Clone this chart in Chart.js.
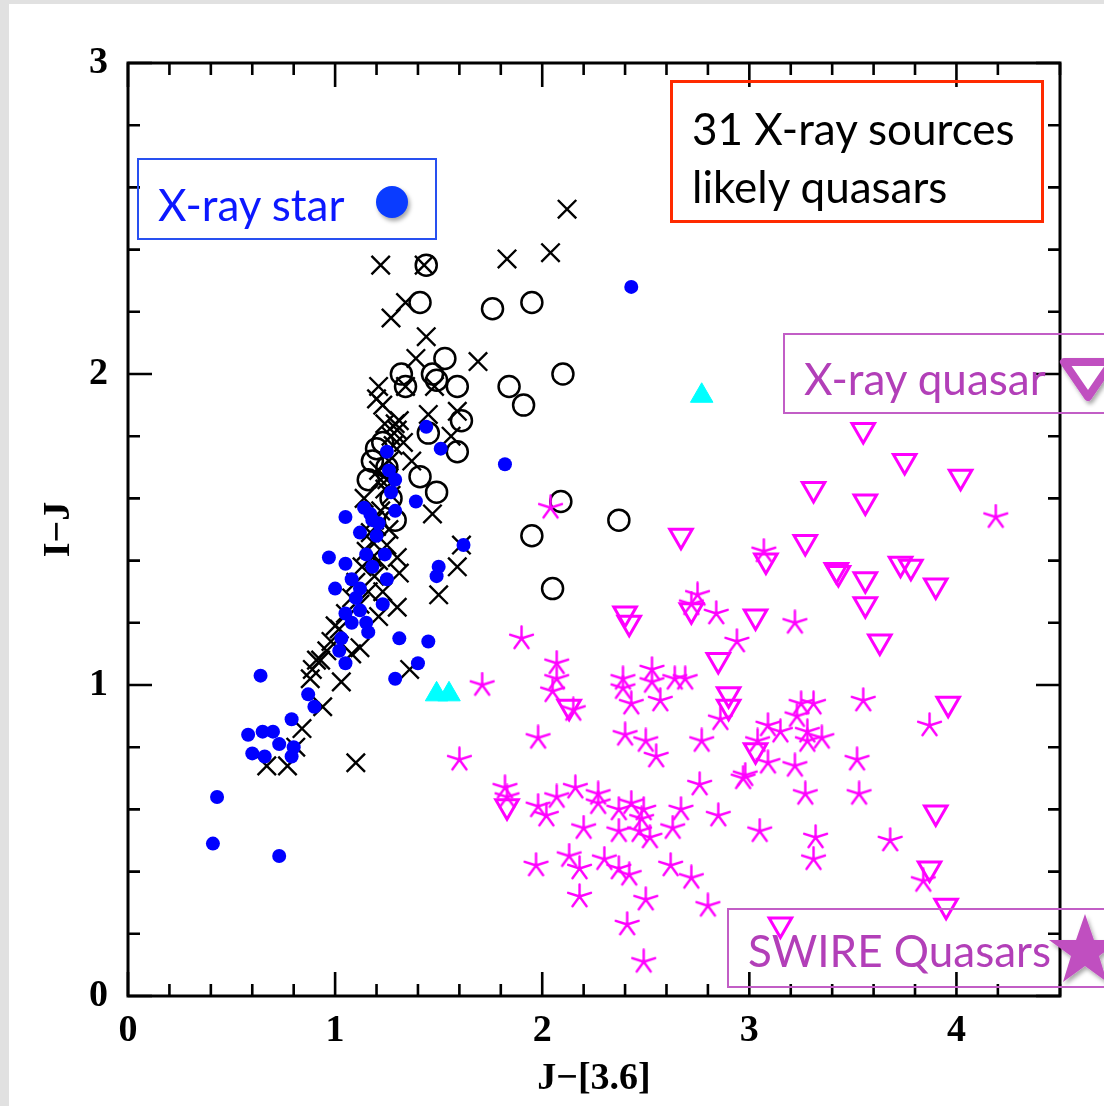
<!DOCTYPE html>
<html>
<head>
<meta charset="utf-8">
<script src="https://cdn.jsdelivr.net/npm/chart.js@4.4.0/dist/chart.umd.min.js"></script>
<style>
  html, body { margin: 0; padding: 0; background: #e1e1e1; }
  #page { position: relative; width: 1104px; height: 1106px; overflow: hidden; }
  #card { position: absolute; left: 9px; top: 4px; right: 0; bottom: 0; background: #fff; }
  #plot { position: absolute; left: 0; top: 0; }
  .box { position: absolute; box-sizing: border-box; }
  .txt { position: absolute; white-space: nowrap; font-family: Lato, 'Open Sans', sans-serif; font-size: 44px; line-height: 44px; }
</style>
</head>
<body>
<div id="page">
  <div id="card"></div>
  <canvas id="plot" width="1104" height="1106"></canvas>

  <div class="box" style="left:670px; top:80px; width:374px; height:143px; border:3px solid #ff2a00;"></div>
  <div class="txt" style="left:692px; top:106px; color:#000;">31 X-ray sources</div>
  <div class="txt" style="left:692px; top:164px; color:#000;">likely quasars</div>

  <div class="box" style="left:137px; top:158px; width:300px; height:82px; border:2px solid #2850f0;"></div>
  <div class="txt" style="left:158px; top:182px; color:#0c18ff;">X-ray star</div>
  <div style="position:absolute; left:376px; top:186px; width:32px; height:32px; border-radius:50%; background:#0a3cff; box-shadow:2px 3px 4px rgba(0,0,0,0.35);"></div>

  <div class="box" style="left:783px; top:333px; width:340px; height:81px; border:2px solid #c25ec6;"></div>
  <div class="txt" style="left:804px; top:356px; color:#b23fb8;">X-ray quasar</div>
  <svg style="position:absolute; left:1050px; top:350px;" width="80" height="60">
    <defs><filter id="sh" x="-30%" y="-30%" width="160%" height="160%"><feDropShadow dx="2" dy="3" stdDeviation="2" flood-opacity="0.35"/></filter></defs>
    <polygon points="14,12 62,12 38,47" fill="#fff" stroke="#c050c0" stroke-width="8" stroke-linejoin="round" filter="url(#sh)"/>
  </svg>

  <div class="box" style="left:727px; top:908px; width:400px; height:80px; border:2px solid #c25ec6;"></div>
  <div class="txt" style="left:748px; top:928px; color:#b23fb8;">SWIRE Quasars</div>
  <svg style="position:absolute; left:1040px; top:906px;" width="90" height="90">
    <defs><filter id="sh2" x="-30%" y="-30%" width="160%" height="160%"><feDropShadow dx="2" dy="3" stdDeviation="2" flood-opacity="0.35"/></filter></defs>
    <polygon points="45,8 54,34 81,34 59,50 67,76 45,60 23,76 31,50 9,34 36,34" fill="#c050c0" filter="url(#sh2)"/>
  </svg>
</div>

<script>
// J-[3.6] vs I-J, one [x, y] pair per source
const swireQuasars = [
  [1.90, 1.15], [2.07, 1.07], [2.07, 1.02], [2.05, 0.98], [2.15, 0.92], [1.71, 1.00], [1.98, 0.83], [1.60, 0.76],
  [2.39, 1.02], [2.39, 0.99], [2.53, 1.05], [2.53, 1.01], [2.43, 0.94], [2.57, 0.95], [2.64, 1.02], [2.69, 1.02],
  [2.75, 1.29], [2.84, 1.23], [2.94, 1.14], [2.86, 0.89], [2.40, 0.84], [2.50, 0.82], [2.55, 0.77], [2.77, 0.82],
  [2.76, 0.68], [2.97, 0.70], [1.82, 0.67], [2.16, 0.67], [2.07, 0.64], [1.98, 0.61], [2.02, 0.58], [2.27, 0.65],
  [2.27, 0.62], [2.20, 0.54], [2.37, 0.60], [2.43, 0.62], [2.49, 0.60], [2.48, 0.57], [2.37, 0.53], [2.47, 0.53],
  [2.52, 0.51], [2.67, 0.60], [2.63, 0.54], [2.85, 0.58], [2.13, 0.45], [2.18, 0.41], [2.30, 0.44], [2.37, 0.41],
  [2.42, 0.39], [1.97, 0.42], [2.18, 0.32], [2.62, 0.42], [2.72, 0.38], [2.50, 0.31], [2.41, 0.23], [2.80, 0.29],
  [2.49, 0.11], [3.07, 1.43], [4.19, 1.54], [3.22, 1.20], [3.55, 0.95], [3.25, 0.94], [3.31, 0.94], [3.23, 0.90],
  [3.09, 0.87], [3.15, 0.85], [3.28, 0.85], [3.28, 0.82], [3.35, 0.83], [3.04, 0.82], [3.87, 0.87], [3.09, 0.75],
  [3.22, 0.74], [2.98, 0.71], [3.52, 0.76], [3.27, 0.65], [3.53, 0.65], [3.05, 0.53], [3.32, 0.51], [3.31, 0.44],
  [3.68, 0.50], [3.84, 0.37], [2.04, 1.57], [1.83, 0.64], [2.72, 1.26]
];

const xrayQuasars = [
  [3.55, 1.82], [3.75, 1.72], [4.02, 1.67], [3.31, 1.63], [3.56, 1.59], [3.27, 1.46], [3.08, 1.40], [3.42, 1.37],
  [3.43, 1.36], [3.56, 1.34], [3.73, 1.39], [3.78, 1.38], [3.90, 1.32], [3.56, 1.26], [3.63, 1.14], [3.03, 1.22],
  [2.67, 1.48], [2.40, 1.23], [2.42, 1.20], [2.72, 1.24], [2.85, 1.08], [2.90, 0.97], [2.90, 0.93], [2.13, 0.93],
  [3.03, 0.79], [3.96, 0.94], [3.90, 0.59], [3.87, 0.41], [3.95, 0.29], [3.15, 0.23], [1.83, 0.61]
];

const cyanSources = [[2.77, 1.93], [1.49, 0.97], [1.55, 0.97]];

const xrayStars = [
  [2.43, 2.28], [1.44, 1.83], [1.51, 1.76], [1.82, 1.71], [1.25, 1.75], [1.26, 1.69], [1.29, 1.66], [1.39, 1.59],
  [1.29, 1.56], [1.62, 1.45], [1.50, 1.38], [1.49, 1.35], [1.27, 1.62], [1.14, 1.57], [1.05, 1.54], [1.18, 1.53],
  [1.12, 1.49], [1.21, 1.52], [1.24, 1.42], [1.15, 1.42], [0.97, 1.41], [1.05, 1.39], [1.18, 1.38], [1.08, 1.34],
  [1.00, 1.31], [1.12, 1.31], [1.25, 1.34], [1.23, 1.26], [1.05, 1.23], [1.12, 1.24], [1.15, 1.20], [1.16, 1.17],
  [1.03, 1.15], [1.02, 1.11], [1.05, 1.07], [1.31, 1.15], [1.45, 1.14], [1.40, 1.07], [1.29, 1.02], [0.64, 1.03],
  [0.87, 0.97], [0.90, 0.93], [0.79, 0.89], [0.58, 0.84], [0.65, 0.85], [0.70, 0.85], [0.73, 0.81], [0.80, 0.80],
  [0.79, 0.77], [0.60, 0.78], [0.66, 0.77], [0.43, 0.64], [0.41, 0.49], [0.73, 0.45], [1.10, 1.28], [1.08, 1.20],
  [1.20, 1.48], [1.17, 1.55]
];

const circleSources = [
  [1.44, 2.35], [1.41, 2.23], [1.76, 2.21], [1.95, 2.23], [2.10, 2.00], [1.84, 1.96], [1.91, 1.90], [2.09, 1.59],
  [2.37, 1.53], [1.95, 1.48], [2.05, 1.31], [1.53, 2.05], [1.32, 2.00], [1.47, 2.00], [1.49, 1.98], [1.59, 1.96],
  [1.34, 1.96], [1.61, 1.85], [1.45, 1.81], [1.59, 1.75], [1.41, 1.67], [1.49, 1.62], [1.23, 1.78], [1.18, 1.72],
  [1.29, 1.53], [1.20, 1.76], [1.25, 1.70], [1.16, 1.66], [1.27, 1.60]
];

const crossSources = [
  [2.12, 2.53], [2.04, 2.39], [1.83, 2.37], [1.22, 2.35], [1.43, 2.35], [1.34, 2.23], [1.27, 2.18], [1.44, 2.12],
  [1.39, 2.05], [1.69, 2.04], [1.21, 1.96], [1.20, 1.92], [1.34, 1.96], [1.48, 1.96], [1.45, 1.87], [1.59, 1.88],
  [1.29, 1.84], [1.30, 1.82], [1.27, 1.80], [1.56, 1.80], [1.37, 1.72], [1.21, 1.69], [1.24, 1.63], [1.27, 1.61],
  [1.47, 1.55], [1.17, 1.49], [1.30, 1.41], [1.31, 1.36], [1.61, 1.45], [1.59, 1.38], [1.50, 1.29], [1.30, 1.25],
  [1.21, 1.22], [1.00, 1.19], [1.12, 1.12], [1.08, 1.10], [1.36, 1.05], [0.91, 1.08], [0.89, 1.05], [0.88, 1.02],
  [1.03, 1.01], [0.94, 0.93], [0.84, 0.86], [0.81, 0.80], [0.67, 0.74], [0.77, 0.74], [1.10, 0.75],
  [0.93, 1.08], [0.96, 1.11], [0.98, 1.14], [1.02, 1.18], [1.05, 1.23], [1.08, 1.28], [1.10, 1.33], [1.13, 1.38],
  [1.15, 1.43], [1.18, 1.46], [1.20, 1.51], [1.22, 1.56], [1.25, 1.66], [1.26, 1.72], [1.28, 1.77], [1.31, 1.85],
  [1.24, 1.84], [1.23, 1.90], [1.16, 1.30], [1.19, 1.35], [1.12, 1.26], [1.21, 1.40], [1.25, 1.45], [1.19, 1.53],
  [1.26, 1.50], [1.14, 1.60], [1.22, 1.66], [1.33, 1.78], [1.18, 1.41], [1.23, 1.30]
];

const xRange = [0, 4.5];
const yRange = [0, 3];
const tickStep = 0.2;

const toXY = pts => pts.map(p => ({ x: p[0], y: p[1] }));
const isMajor = v => Math.abs(v - Math.round(v)) < 1e-6;

// 5-armed asterisk like the old PGPLOT marker
function makeAsterisk(size, color) {
    const c = document.createElement('canvas');
    c.width = size;
    c.height = size;
    const g = c.getContext('2d');
    const r = size / 2 - 1.5;
    g.strokeStyle = color;
    g.lineWidth = 2.4;
    g.lineCap = 'round';
    g.beginPath();
    for (let k = 0; k < 5; k++) {
        const a = k * 2 * Math.PI / 5;
        g.moveTo(size / 2, size / 2);
        g.lineTo(size / 2 + r * Math.sin(a), size / 2 - r * Math.cos(a));
    }
    g.stroke();
    return c;
}

// box + inward ticks on all four sides
const frameTicks = {
    id: 'frameTicks',
    afterDatasetsDraw(chart) {
        const { ctx, chartArea: a, scales: { x, y } } = chart;
        ctx.save();
        ctx.strokeStyle = '#000';
        ctx.lineWidth = 3;
        ctx.strokeRect(a.left, a.top, a.right - a.left, a.bottom - a.top);
        ctx.lineWidth = 2.6;
        ctx.beginPath();
        x.ticks.forEach(t => {
            const px = x.getPixelForValue(t.value);
            const len = isMajor(t.value) ? 24 : 12;
            ctx.moveTo(px, a.bottom); ctx.lineTo(px, a.bottom - len);
            ctx.moveTo(px, a.top); ctx.lineTo(px, a.top + len);
        });
        y.ticks.forEach(t => {
            const py = y.getPixelForValue(t.value);
            const len = isMajor(t.value) ? 24 : 12;
            ctx.moveTo(a.left, py); ctx.lineTo(a.left + len, py);
            ctx.moveTo(a.right, py); ctx.lineTo(a.right - len, py);
        });
        ctx.stroke();
        ctx.restore();
    }
};

const tickFont = { family: "'Liberation Serif', serif", size: 38, weight: 'bold' };
const titleFont = { family: "'Liberation Serif', serif", size: 38, weight: 'bold' };

const ctx = document.getElementById('plot').getContext('2d');
const myChart = new Chart(ctx, {
    type: 'scatter',
    data: {
        datasets: [
            {
                label: 'SWIRE Quasars',
                data: toXY(swireQuasars),
                pointStyle: makeAsterisk(27, '#ff00ff'),
                pointRadius: 12,
            },
            {
                label: 'X-ray quasar',
                data: toXY(xrayQuasars),
                pointStyle: 'triangle',
                rotation: 180,
                pointRadius: 13,
                borderColor: '#ff00ff',
                backgroundColor: 'rgba(0,0,0,0)',
                borderWidth: 3,
            },
            {
                label: 'cyan',
                data: toXY(cyanSources),
                pointStyle: 'triangle',
                pointRadius: 13,
                borderColor: '#00ffff',
                backgroundColor: '#00ffff',
                borderWidth: 1,
            },
            {
                label: 'X-ray star',
                data: toXY(xrayStars),
                pointStyle: 'circle',
                pointRadius: 7,
                borderColor: '#0000ff',
                backgroundColor: '#0000ff',
                borderWidth: 0,
            },
            {
                label: 'circles',
                data: toXY(circleSources),
                pointStyle: 'circle',
                pointRadius: 10.5,
                borderColor: '#000',
                backgroundColor: 'rgba(0,0,0,0)',
                borderWidth: 2.5,
            },
            {
                label: 'crosses',
                data: toXY(crossSources),
                pointStyle: 'crossRot',
                pointRadius: 13,
                borderColor: '#000',
                borderWidth: 2.4,
            }
        ]
    },
    options: {
        responsive: false,
        animation: false,
        devicePixelRatio: 1,
        layout: { padding: { top: 63, right: 44, left: 0, bottom: 0 } },
        plugins: { legend: { display: false }, tooltip: { enabled: false } },
        scales: {
            x: {
                type: 'linear',
                min: xRange[0],
                max: xRange[1],
                afterFit: s => { s.height = 110; },
                grid: { display: false, drawTicks: false },
                border: { display: false },
                ticks: {
                    stepSize: tickStep,
                    autoSkip: false,
                    maxRotation: 0,
                    padding: 12,
                    color: '#000',
                    font: tickFont,
                    callback: v => isMajor(v) ? String(Math.round(v)) : ''
                },
                title: { display: true, text: 'J\u2212[3.6]', color: '#000', font: titleFont, padding: { bottom: 4 } }
            },
            y: {
                type: 'linear',
                min: yRange[0],
                max: yRange[1],
                afterFit: s => { s.width = 128; },
                grid: { display: false, drawTicks: false },
                border: { display: false },
                ticks: {
                    stepSize: tickStep,
                    autoSkip: false,
                    padding: 20,
                    color: '#000',
                    font: tickFont,
                    callback: v => isMajor(v) ? String(Math.round(v)) : ''
                },
                title: { display: true, text: 'I\u2212J', color: '#000', font: titleFont, padding: { top: 36 } }
            }
        }
    },
    plugins: [frameTicks]
});
</script>
</body>
</html>
